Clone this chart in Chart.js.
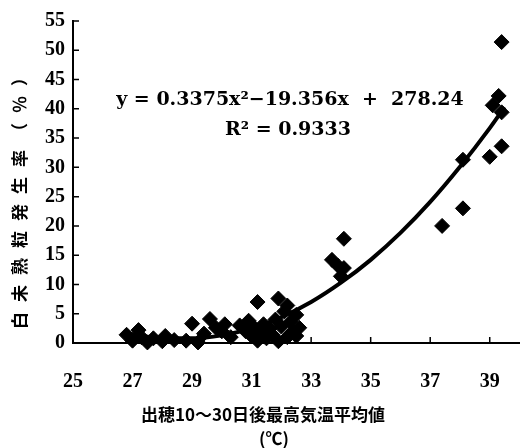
<!DOCTYPE html>
<html>
<head>
<meta charset="utf-8">
<script src="https://cdn.jsdelivr.net/npm/chart.js@4.4.1/dist/chart.umd.min.js"></script>
<style>
  html, body { margin: 0; padding: 0; background: #fff; }
  #wrap { width: 528px; height: 448px; position: relative; }
</style>
</head>
<body>
<div id="wrap"><canvas id="riceChart"></canvas></div>
<script>
// observed points: mean max temp 10-30 days after heading vs. chalky grain rate
const tempX = [26.8, 27.0, 27.2, 27.3, 27.5, 27.7, 28.0, 28.1, 28.4, 28.8,
  29.0, 29.2, 29.4, 29.6, 29.8, 30.0, 30.1, 30.3, 30.6, 30.8,
  30.9, 31.0, 31.1, 31.2, 31.2, 31.3, 31.4, 31.5, 31.6, 31.7,
  31.8, 31.9, 31.9, 32.0, 32.1, 32.2, 32.2, 32.3, 32.4, 32.5,
  32.5, 32.6, 33.7, 33.9, 34.0, 34.1, 34.1, 37.4, 38.1, 38.1,
  39.0, 39.1, 39.3, 39.4, 39.4, 39.4];
const rateY = [1.4, 0.4, 2.2, 1.0, 0.1, 0.8, 0.3, 1.2, 0.5, 0.4,
  3.3, 0.1, 1.6, 4.1, 2.6, 2.0, 3.2, 1.0, 3.0, 2.0,
  3.8, 1.2, 2.6, 7.0, 0.4, 1.8, 3.2, 0.8, 2.4, 1.4,
  4.0, 7.6, 0.3, 2.8, 5.4, 1.0, 6.4, 3.6, 2.0, 4.8,
  1.2, 2.6, 14.2, 13.2, 11.4, 12.8, 17.8, 20.0, 23.0, 31.3,
  31.8, 40.6, 42.2, 39.4, 33.6, 51.4];

// fitted curve
const curveX = [26.9, 28, 29, 30, 31, 32, 33, 34, 35, 36, 37, 38, 39, 39.5];
const curveY = [1.6, 0.8, 0.8, 1.3, 2.5, 4.4, 7.0, 10.3, 14.2, 18.8, 24.1, 30.1, 36.7, 40.3];

const xTickValues = [25, 27, 29, 31, 33, 35, 37, 39];
const equationText = 'y = 0.3375x\u00b2\u221219.356x  +  278.24';
const r2Text = 'R\u00b2 = 0.9333';
const yTitle = '白未熟粒発生率（％）';
const xTitle = '出穂10〜30日後最高気温平均値';
const xUnit = '(℃)';

const tickFont = { family: 'Liberation Serif', size: 20, weight: 'bold' };

const innerTicks = {
  id: 'innerTicks',
  afterDraw(chart) {
    const { ctx, chartArea: a, scales: { x, y } } = chart;
    ctx.save();
    ctx.strokeStyle = '#000';
    ctx.lineWidth = 1.5;
    ctx.beginPath();
    y.ticks.forEach(t => {
      const py = y.getPixelForValue(t.value);
      ctx.moveTo(a.left, py);
      ctx.lineTo(a.left + 6, py);
    });
    x.ticks.forEach(t => {
      const px = x.getPixelForValue(t.value);
      ctx.moveTo(px, a.bottom);
      ctx.lineTo(px, a.bottom - 6);
    });
    ctx.stroke();
    ctx.restore();
  }
};

const labels = {
  id: 'labels',
  afterDraw(chart) {
    const ctx = chart.ctx;
    ctx.save();
    ctx.fillStyle = '#000';
    ctx.textAlign = 'center';
    ctx.textBaseline = 'middle';

    ctx.font = 'bold 19px "DejaVu Serif"';
    ctx.fillText(equationText, 290, 100);
    ctx.fillText(r2Text, 288, 130);

    ctx.font = 'bold 17px "Noto Sans CJK JP"';
    ctx.fillText(xTitle, 263, 415);
    ctx.fillText(xUnit, 274, 439);

    ctx.translate(20, 199);
    ctx.rotate(-Math.PI / 2);
    ctx.letterSpacing = '10px';
    ctx.fillText(yTitle, 5, 0);
    ctx.restore();
  }
};

const ctx = document.getElementById('riceChart');
new Chart(ctx, {
  type: 'scatter',
  data: {
    datasets: [
      {
        label: 'curve',
        data: curveX.map((x, i) => ({ x: x, y: curveY[i] })),
        showLine: true,
        borderColor: '#000',
        borderWidth: 4,
        pointRadius: 0,
        cubicInterpolationMode: 'monotone',
        order: 1
      },
      {
        label: 'observed',
        data: tempX.map((x, i) => ({ x: x, y: rateY[i] })),
        pointStyle: 'rectRot',
        pointRadius: 7.5,
        pointBackgroundColor: '#000',
        pointBorderColor: '#000',
        pointBorderWidth: 1,
        clip: false,
        order: 2
      }
    ]
  },
  options: {
    responsive: true,
    maintainAspectRatio: false,
    animation: false,
    layout: { padding: { top: 21, right: 0, left: 0, bottom: 0 } },
    plugins: { legend: { display: false }, tooltip: { enabled: false } },
    scales: {
      x: {
        type: 'linear',
        min: 25,
        max: 40,
        afterBuildTicks: (axis) => { axis.ticks = xTickValues.map(v => ({ value: v })); },
        afterFit: (axis) => { axis.height = 105; },
        grid: { display: false, drawTicks: false },
        border: { display: true, color: '#000', width: 2 },
        ticks: { color: '#000', font: tickFont, padding: 27, maxRotation: 0 }
      },
      y: {
        min: 0,
        max: 55,
        afterFit: (axis) => { axis.width = 73; },
        grid: { display: false, drawTicks: false },
        border: { display: true, color: '#000', width: 2 },
        ticks: { stepSize: 5, color: '#000', font: tickFont, padding: 8 }
      }
    }
  },
  plugins: [innerTicks, labels]
});
</script>
</body>
</html>
